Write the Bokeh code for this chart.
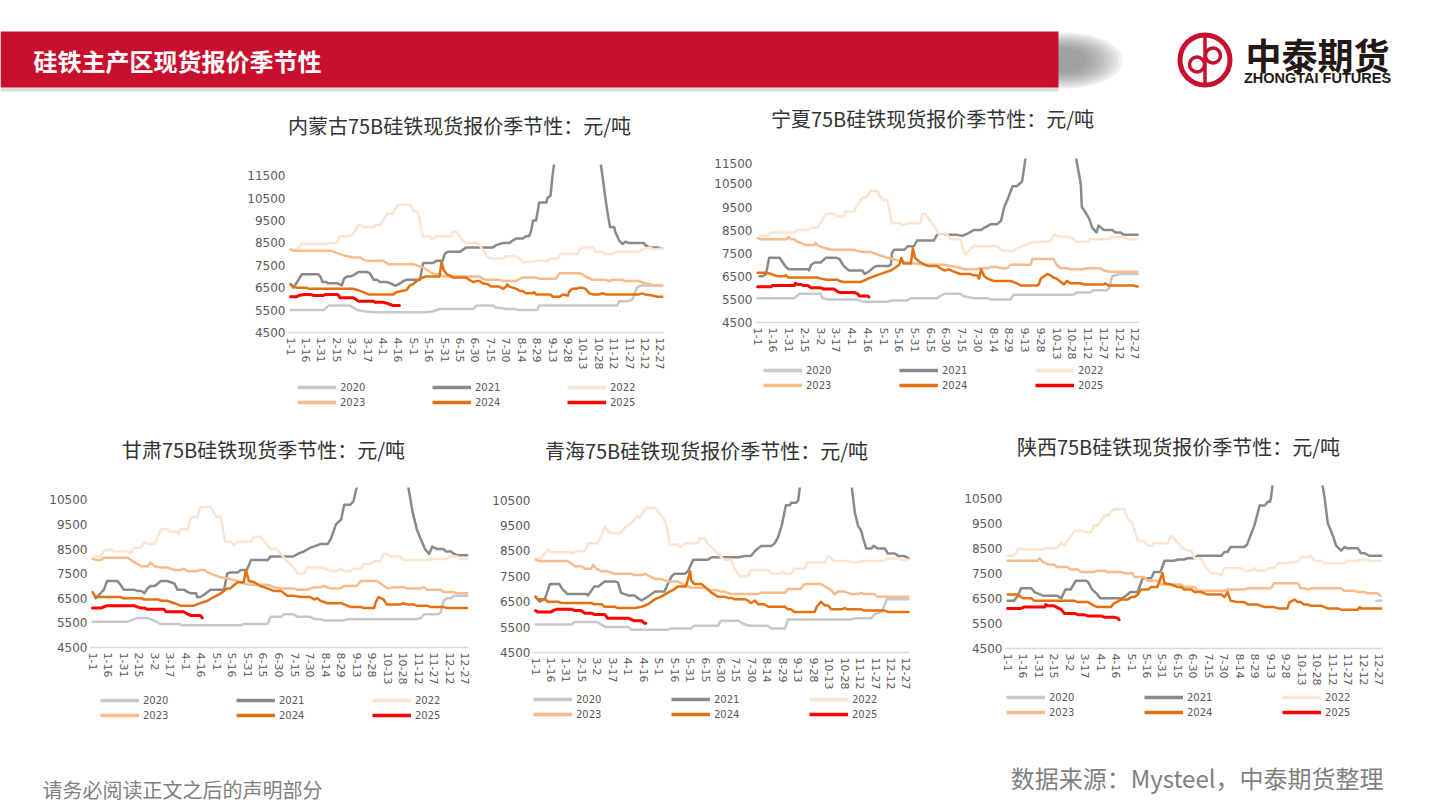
from bokeh.plotting import figure
from bokeh.layouts import column, row
from bokeh.models import Range1d, FixedTicker, Legend, LegendItem, Spacer
from bokeh.core.properties import value
from bokeh.embed import file_html
from bokeh.resources import INLINE

# ---------------- data ----------------
TICK_LABELS = ["1-1", "1-16", "1-31", "2-15", "3-2", "3-17", "4-1", "4-16", "5-1", "5-16",
               "5-31", "6-15", "6-30", "7-15", "7-30", "8-14", "8-29", "9-13", "9-28",
               "10-13", "10-28", "11-12", "11-27", "12-12", "12-27"]
TICK_DAYS = [i * 15 for i in range(len(TICK_LABELS))]   # day-of-year index of each label
YEARS = ["2020", "2021", "2022", "2023", "2024", "2025"]

# each series: (first day, last day, price) readings of flat stretches
NM_2020 = [(0,32,5500),(37,58,5700),(65,65,5500),(71,71,5450),(81,132,5400),(139,139,5450),(145,178,5550),(181,197,5700),(200,203,5600),(210,218,5550),(222,240,5500),(242,318,5700),(320,329,5900),(333,333,6000),(337,337,6500),(342,362,6600)]
NM_2021 = [(0,0,6650),(3,3,6500),(11,27,7100),(29,29,7000),(31,35,6750),(36,45,6700),(48,48,6650),(50,50,6600),(52,52,6900),(55,58,7000),(61,61,7050),(66,74,7200),(77,77,7150),(81,84,6850),(87,94,6750),(97,97,6700),(101,103,6600),(107,107,6700),(110,110,6800),(113,126,6850),(129,139,7600),(142,148,7700),(150,150,8000),(153,165,8100),(168,168,8200),(171,197,8300),(200,200,8400),(207,213,8500),(216,216,8600),(220,226,8700),(229,232,8800),(234,234,9000),(236,239,9500),(242,249,10300),(250,250,10500),(253,253,10600),(255,255,11500),(258,258,12500),(262,262,13500),(268,268,15000),(275,275,16500),(282,282,18000),(288,288,18500),(293,293,17000),(298,298,14000),(302,302,12000),(305,305,11000),(308,308,10000),(311,315,9200),(316,316,9000),(320,320,8600),(323,323,8450),(326,326,8550),(329,344,8500),(345,345,8400),(350,358,8300),(362,362,8250)]
NM_2022 = [(0,6,8200),(8,8,8300),(11,36,8450),(39,45,8500),(48,58,8800),(61,61,8900),(66,69,9300),(71,81,9200),(82,87,9300),(90,90,9500),(94,100,9800),(102,102,10000),(105,116,10200),(118,118,10100),(119,123,9900),(124,124,9800),(126,126,9500),(128,128,8900),(129,136,8800),(137,140,8700),(142,157,8800),(158,161,9000),(163,163,8900),(166,166,8700),(170,181,8500),(184,184,8400),(187,187,8200),(191,191,7900),(194,207,7800),(210,220,7900),(223,223,7800),(226,236,7650),(239,247,7700),(249,249,7650),(253,260,7800),(263,279,8000),(283,295,8300),(297,304,8100),(305,313,8000),(316,339,8100),(342,342,8200),(349,349,8300),(355,355,8200),(360,362,8250)]
NM_2023 = [(0,0,8200),(3,39,8150),(42,42,8100),(48,48,8000),(55,55,7900),(61,68,7850),(71,71,7750),(74,90,7700),(94,94,7600),(95,119,7550),(123,123,7500),(129,129,7400),(136,136,7200),(140,145,7100),(149,184,7000),(187,187,6900),(191,203,6850),(207,220,6800),(223,223,6900),(226,239,6950),(242,258,6900),(262,281,7150),(284,284,7100),(287,287,7000),(294,307,6850),(310,310,6800),(313,323,6850),(326,339,6800),(342,342,6750),(345,345,6700),(350,350,6650),(354,362,6600)]
NM_2024 = [(0,0,6650),(3,3,6550),(6,15,6500),(18,61,6450),(65,65,6400),(71,71,6300),(76,100,6200),(103,103,6300),(108,108,6350),(113,113,6400),(116,116,6600),(119,119,6650),(123,123,6800),(128,128,6950),(132,145,7000),(147,147,7650),(149,149,7300),(152,152,7100),(155,155,7050),(158,171,6950),(174,174,6850),(178,178,6750),(181,184,6800),(187,187,6700),(192,192,6650),(195,203,6550),(207,207,6450),(210,210,6550),(211,211,6650),(213,213,6550),(220,220,6450),(223,226,6350),(229,236,6250),(237,237,6300),(239,253,6200),(255,262,6100),(265,265,6200),(270,270,6150),(271,271,6300),(274,278,6450),(281,284,6500),(287,287,6450),(291,291,6250),(294,300,6200),(304,304,6250),(307,339,6200),(342,342,6250),(345,345,6200),(352,352,6150),(357,362,6100)]
NM_2025 = [(0,6,6100),(8,8,6150),(13,19,6200),(23,32,6150),(34,45,6200),(47,47,6150),(48,61,6050),(63,63,6000),(66,81,5900),(82,90,5850),(94,94,5800),(97,97,5750),(100,106,5700)]

NX_2020 = [(0,35,5550),(40,60,5750),(62,62,5550),(67,95,5500),(100,124,5400),(127,142,5450),(146,171,5550),(174,174,5650),(179,193,5750),(196,196,5650),(206,219,5550),(222,241,5500),(244,301,5700),(304,317,5800),(320,333,5900),(335,335,6000),(338,338,6500),(345,363,6600)]
NX_2021 = [(2,5,6500),(8,8,6600),(11,21,7300),(24,24,7100),(27,27,6900),(30,48,6800),(49,49,6750),(51,51,7000),(55,60,7100),(65,75,7300),(78,78,7250),(82,82,6950),(87,100,6750),(102,102,6600),(106,106,6700),(111,111,6900),(114,125,6950),(127,127,7000),(128,128,7500),(130,140,7650),(143,149,7800),(152,168,8050),(171,190,8300),(195,195,8250),(200,200,8350),(206,213,8500),(216,216,8600),(222,228,8750),(232,232,8900),(235,235,9500),(238,238,9800),(243,247,10400),(252,252,10600),(255,255,11500),(258,258,12500),(263,263,14000),(270,270,16000),(278,278,17500),(285,285,18500),(292,292,17500),(298,298,15000),(302,302,12500),(304,304,11500),(308,308,10500),(309,309,9500),(312,312,9300),(316,316,9000),(319,319,8600),(323,323,8400),(325,325,8700),(330,338,8500),(341,346,8400),(349,363,8300)]
NX_2022 = [(2,9,8250),(13,35,8400),(38,48,8500),(51,57,8600),(60,60,8800),(65,73,9200),(76,82,9100),(84,92,9300),(95,95,9600),(100,103,9900),(108,114,10200),(116,116,10000),(120,124,9800),(125,125,9500),(128,136,8800),(138,138,8700),(143,155,8800),(157,160,9200),(163,163,9000),(168,168,8700),(173,178,8300),(179,179,8400),(184,193,8100),(195,195,7800),(198,198,7450),(201,201,7600),(206,228,7800),(232,232,7650),(235,244,7600),(247,247,7700),(252,252,7800),(260,260,7950),(265,279,8000),(282,282,8300),(289,298,8200),(304,314,8000),(317,333,8100),(339,349,8200),(352,363,8100)]
NX_2023 = [(0,0,8150),(3,28,8100),(29,29,8200),(32,35,8100),(38,38,8000),(43,43,7900),(46,54,7850),(55,55,7950),(57,57,7850),(62,62,7750),(70,92,7650),(95,95,7600),(101,108,7550),(111,111,7500),(117,117,7400),(124,124,7300),(133,133,7200),(143,143,7100),(149,149,7050),(159,178,7000),(184,184,6950),(190,190,6900),(197,209,6800),(212,219,6850),(222,228,6900),(232,238,6850),(241,260,7000),(262,282,7250),(285,285,7000),(289,296,6850),(298,310,6800),(314,326,6850),(330,330,6750),(336,361,6700),(363,363,6650)]
NX_2024 = [(0,9,6650),(13,13,6600),(19,25,6500),(27,27,6550),(29,57,6450),(60,60,6400),(66,76,6350),(78,78,6300),(82,98,6250),(103,103,6350),(108,108,6450),(114,114,6550),(120,120,6650),(127,127,6750),(132,132,6900),(135,135,7000),(137,137,7300),(139,146,7050),(148,148,7700),(150,150,7300),(155,155,7100),(162,171,6950),(174,174,6850),(178,178,6750),(182,182,6800),(187,187,6700),(193,203,6600),(205,209,6550),(211,211,6400),(213,213,6800),(216,216,6500),(219,219,6400),(225,241,6300),(247,247,6200),(251,266,6100),(268,268,6150),(270,270,6400),(276,276,6600),(279,279,6550),(282,282,6450),(285,285,6400),(289,289,6250),(292,292,6150),(295,295,6300),(298,308,6200),(311,330,6150),(331,331,6200),(335,358,6100),(363,363,6050)]
NX_2025 = [(0,13,6050),(14,35,6100),(36,36,6200),(38,41,6150),(44,48,6100),(51,60,6000),(63,73,5950),(74,74,5900),(78,92,5800),(95,95,5750),(97,105,5650),(106,106,5600)]

GS_2020 = [(0,34,5550),(43,53,5700),(59,59,5600),(66,84,5450),(86,143,5400),(146,169,5450),(172,182,5750),(185,194,5850),(198,210,5750),(214,220,5650),(223,243,5600),(246,313,5650),(317,317,5700),(320,333,5850),(336,336,5900),(339,339,6400),(342,346,6500),(349,362,6600)]
GS_2021 = [(2,2,6600),(3,3,6500),(11,11,6850),(14,24,7200),(27,27,7050),(30,40,6850),(43,47,6800),(50,50,6700),(53,53,6900),(56,60,7000),(66,72,7200),(79,79,7100),(82,88,6850),(92,92,6750),(95,100,6700),(101,104,6550),(108,108,6650),(114,127,6850),(130,130,7500),(133,140,7550),(143,149,7650),(153,169,8050),(172,194,8200),(198,198,8300),(204,204,8400),(210,210,8550),(220,227,8700),(230,230,8900),(235,235,9500),(240,240,9700),(243,249,10300),(252,252,10450),(255,255,11000),(260,260,12500),(266,266,14500),(274,274,16500),(282,282,18000),(290,290,17500),(298,298,15000),(303,303,12000),(305,305,11000),(309,309,10000),(312,312,9500),(313,313,9300),(317,317,8900),(321,321,8500),(325,325,8300),(328,328,8600),(333,339,8500),(341,346,8400),(349,349,8300),(352,362,8250)]
GS_2022 = [(2,8,8200),(11,17,8450),(18,18,8500),(21,34,8400),(37,37,8350),(40,47,8550),(50,50,8800),(53,60,8700),(66,72,9300),(75,82,9200),(83,83,9100),(85,92,9300),(95,101,9800),(104,114,10200),(117,117,10000),(120,124,9800),(125,125,9500),(128,133,8800),(137,137,8650),(140,153,8800),(156,162,9000),(166,166,8800),(172,178,8500),(182,182,8300),(188,188,8000),(195,195,7700),(198,204,7500),(207,223,7750),(227,227,7650),(230,236,7600),(240,240,7700),(243,249,7600),(252,259,7700),(262,268,7900),(272,278,8000),(281,285,8300),(288,297,8200),(300,326,8050),(328,342,8100),(346,352,8200),(355,362,8100)]
GS_2023 = [(0,0,8100),(5,8,8050),(11,34,8150),(37,37,8050),(43,43,7900),(47,53,7800),(56,56,7950),(60,60,7800),(66,72,7750),(79,85,7650),(88,88,7700),(92,101,7600),(104,108,7650),(111,111,7550),(117,117,7450),(124,124,7350),(130,130,7300),(140,140,7200),(146,146,7100),(153,169,7050),(175,175,6950),(182,194,6900),(198,207,6850),(214,220,6950),(223,223,7000),(230,239,6900),(243,255,7000),(259,275,7200),(278,278,7100),(285,285,6900),(291,300,6950),(304,316,6900),(320,320,6950),(323,336,6850),(339,349,6750),(352,362,6700)]
GS_2024 = [(0,0,6750),(3,27,6550),(30,47,6500),(50,63,6450),(66,72,6400),(79,79,6300),(85,98,6200),(104,104,6300),(111,111,6400),(117,117,6550),(124,124,6700),(130,133,6900),(137,137,7050),(140,146,7150),(148,148,7650),(151,151,7200),(156,156,7150),(162,162,7000),(169,169,6900),(175,182,6800),(188,194,6600),(201,210,6550),(214,214,6450),(217,217,6500),(220,220,6400),(227,240,6300),(246,246,6200),(249,259,6150),(262,272,6100),(273,273,6300),(276,276,6550),(281,281,6450),(284,297,6250),(300,300,6300),(304,310,6250),(313,323,6200),(326,339,6150),(342,362,6100)]
GS_2025 = [(0,8,6100),(11,11,6150),(14,40,6200),(43,43,6150),(47,50,6100),(53,69,6050),(71,88,5950),(92,92,5850),(95,104,5800),(106,106,5700)]

QH_2020 = [(0,35,5600),(38,60,5700),(64,64,5600),(68,90,5500),(93,128,5400),(132,151,5450),(154,177,5550),(180,197,5750),(203,203,5600),(209,225,5550),(229,242,5450),(243,243,5550),(245,306,5800),(310,326,5850),(329,329,6000),(336,336,6100),(341,363,6600)]
QH_2021 = [(0,0,6700),(4,4,6500),(9,9,6600),(14,23,7200),(26,26,7000),(31,50,6800),(51,51,6750),(57,61,7100),(67,77,7300),(80,80,7250),(83,83,6850),(90,96,6750),(99,99,6650),(103,103,6550),(109,109,6700),(116,125,6900),(132,132,7500),(135,145,7600),(148,148,7700),(153,167,8150),(171,197,8250),(203,209,8300),(213,213,8500),(219,229,8700),(232,232,8800),(235,235,9000),(239,239,9500),(240,240,9700),(243,247,10300),(248,253,10400),(255,255,10500),(258,258,11500),(262,262,13000),(268,268,15000),(276,276,17000),(284,284,18500),(291,291,18000),(298,298,15500),(304,304,12500),(307,307,11000),(310,310,10000),(313,313,9500),(316,316,9300),(318,318,9000),(321,326,8600),(328,328,8700),(332,339,8600),(342,349,8400),(352,358,8300),(363,363,8200)]
QH_2022 = [(0,5,8200),(12,12,8550),(15,34,8450),(35,35,8400),(41,48,8500),(51,60,8800),(64,64,9100),(67,67,9450),(72,83,9200),(86,86,9400),(93,93,9600),(99,99,9900),(101,101,9800),(107,116,10200),(120,120,10000),(124,124,9800),(127,127,9500),(130,138,8750),(140,140,8650),(145,158,8800),(159,164,9000),(167,167,8800),(172,172,8600),(177,177,8400),(183,190,8150),(193,193,7800),(198,206,7500),(209,226,7750),(229,238,7600),(239,239,7700),(242,248,7600),(251,261,7800),(264,281,8050),(284,284,8300),(290,303,8100),(307,313,8050),(316,336,8100),(342,352,8200),(355,363,8150)]
QH_2023 = [(0,0,8150),(4,31,8100),(35,35,8000),(38,44,7900),(48,54,7800),(56,56,7950),(59,59,7800),(64,70,7700),(77,93,7600),(96,103,7550),(106,106,7600),(116,122,7400),(128,138,7300),(145,145,7150),(151,164,7050),(171,177,6950),(180,183,6900),(190,216,6800),(219,242,6850),(245,257,7000),(261,277,7200),(287,287,6950),(290,290,6800),(294,300,6900),(303,303,6850),(307,313,6800),(316,316,6850),(319,329,6800),(332,363,6700)]
QH_2024 = [(0,0,6700),(2,9,6600),(12,22,6500),(25,54,6450),(57,64,6400),(67,77,6300),(80,96,6250),(103,103,6300),(109,109,6400),(116,116,6600),(122,122,6700),(128,128,6850),(135,135,7000),(138,146,7100),(150,150,7700),(151,151,7350),(154,161,7200),(164,164,7100),(171,171,6850),(177,183,6700),(187,190,6650),(193,203,6600),(206,206,6550),(209,209,6450),(213,213,6550),(216,222,6400),(226,242,6300),(245,248,6200),(251,271,6100),(273,273,6300),(277,277,6500),(281,284,6350),(287,297,6200),(300,300,6250),(303,316,6200),(319,339,6150),(342,363,6100)]
QH_2025 = [(0,0,6150),(2,15,6100),(17,17,6150),(20,35,6200),(38,44,6150),(48,54,6050),(57,67,6000),(70,90,5850),(93,93,5800),(96,103,5750),(106,107,5650)]

SX_2020 = [(357,362,6400)]
SX_2021 = [(0,6,6400),(10,10,6600),(13,23,6900),(26,26,6750),(32,32,6650),(35,48,6600),(50,50,6550),(52,52,6500),(56,61,6850),(66,76,7200),(78,78,7150),(82,82,6850),(86,86,6700),(90,110,6500),(113,113,6550),(119,126,6750),(128,128,7000),(131,139,7300),(142,148,7550),(152,161,8000),(165,171,8050),(174,181,8100),(184,207,8200),(210,213,8350),(216,229,8550),(232,232,8650),(236,236,9100),(239,239,9400),(244,249,10200),(252,254,10350),(255,255,10500),(258,258,11500),(262,262,13000),(268,268,15000),(276,276,17000),(284,284,18500),(291,291,18000),(298,298,15500),(303,303,12500),(305,305,11000),(307,307,10500),(310,310,9500),(315,315,9000),(318,318,8600),(323,323,8400),(326,326,8550),(329,339,8500),(342,346,8300),(350,362,8200)]
SX_2022 = [(0,6,8200),(11,11,8500),(15,32,8450),(39,48,8500),(52,52,8700),(55,55,8600),(58,58,8800),(65,71,9200),(74,81,9150),(84,87,9400),(94,97,9800),(100,100,9950),(103,113,10050),(116,116,9700),(121,121,9500),(126,132,8800),(136,139,8600),(142,155,8700),(158,158,9000),(163,163,8800),(170,170,8500),(174,178,8400),(181,187,8100),(191,191,7800),(197,203,7500),(207,207,7400),(210,226,7700),(229,236,7600),(239,239,7700),(242,249,7600),(252,258,7700),(262,271,7900),(274,281,7950),(284,291,8150),(294,294,8200),(297,304,8000),(307,326,7900),(329,339,8000),(342,349,8050),(352,362,8000)]
SX_2023 = [(0,29,8000),(31,31,8100),(34,34,7950),(39,45,7850),(48,58,7750),(61,68,7650),(71,84,7550),(87,94,7600),(97,110,7550),(113,121,7500),(123,132,7350),(136,145,7200),(149,168,7050),(171,181,6950),(184,210,6800),(213,229,6850),(233,255,6900),(258,281,7100),(284,287,6900),(291,291,6850),(294,323,6900),(326,336,6800),(339,346,6750),(349,358,6700),(361,361,6600)]
SX_2024 = [(0,10,6650),(13,13,6550),(16,23,6500),(26,65,6400),(68,78,6350),(84,84,6200),(87,100,6150),(103,103,6300),(110,116,6450),(120,123,6550),(126,126,6650),(129,136,6850),(139,145,6950),(150,150,7500),(152,152,7100),(158,158,7050),(165,168,6950),(171,178,6850),(181,187,6750),(194,207,6650),(210,210,6550),(213,213,6750),(216,216,6400),(223,229,6350),(233,242,6250),(249,258,6150),(262,271,6100),(273,273,6350),(278,278,6450),(281,284,6350),(287,291,6250),(294,304,6200),(307,307,6150),(310,320,6100),(323,339,6050),(341,341,6150),(342,362,6100)]
SX_2025 = [(0,13,6100),(16,36,6150),(37,37,6250),(39,45,6200),(52,52,6050),(55,65,5900),(68,74,5850),(78,90,5800),(94,103,5750),(107,107,5700),(108,108,5650)]

NM = {"2020": NM_2020, "2021": NM_2021, "2022": NM_2022, "2023": NM_2023, "2024": NM_2024, "2025": NM_2025}
NX = {"2020": NX_2020, "2021": NX_2021, "2022": NX_2022, "2023": NX_2023, "2024": NX_2024, "2025": NX_2025}
GS = {"2020": GS_2020, "2021": GS_2021, "2022": GS_2022, "2023": GS_2023, "2024": GS_2024, "2025": GS_2025}
QH = {"2020": QH_2020, "2021": QH_2021, "2022": QH_2022, "2023": QH_2023, "2024": QH_2024, "2025": QH_2025}
SX = {"2020": SX_2020, "2021": SX_2021, "2022": SX_2022, "2023": SX_2023, "2024": SX_2024, "2025": SX_2025}

YTICKS_HIGH = [4500, 5500, 6500, 7500, 8500, 9500, 10500, 11500]
YTICKS_LOW = [4500, 5500, 6500, 7500, 8500, 9500, 10500]

# ---------------- styles ----------------
COLORS = {"2020": "#C8C8C8", "2021": "#8A8A8A", "2022": "#FCE4D2",
          "2023": "#F7BC8C", "2024": "#E4700F", "2025": "#FF0000"}
WIDTHS = {"2020": 2.5, "2021": 2.5, "2022": 2.5, "2023": 2.5, "2024": 2.5, "2025": 3.0}
RED = "#C8102E"
TXT = "#595959"
CJK = "Noto Sans CJK SC"
NUM = "DejaVu Sans"
AXIS_H = 40   # pixels under each plot frame for the date labels


def expand(levels):
    xs, ys = [], []
    for a, b, v in levels:
        xs.append(a)
        ys.append(v)
        if b != a:
            xs.append(b)
            ys.append(v)
    return xs, ys


def canvas(w, h, lb=0, rb=0, x0=None, x1=None, ytop=0):
    """blank figure whose data coordinates are page pixels"""
    if x0 is None:
        x0, x1 = 0, w
    p = figure(width=w, height=h, x_range=Range1d(x0, x1), y_range=Range1d(ytop + h, ytop),
               min_border_left=lb, min_border_right=rb, min_border_top=0, min_border_bottom=0,
               x_axis_type=None, y_axis_type=None,
               output_backend="svg", toolbar_location=None, tools="")
    p.outline_line_color = None
    p.background_fill_color = "white"
    p.border_fill_color = "white"
    p.grid.visible = False
    return p


def make_chart(title, data, ymax, yticks, g):
    fl, fr, ft, fb = g["frame"]
    lb, rb = fl - g["left"], g["rb"]
    width = lb + (fr - fl) + rb
    # title strip (its frame lines up with the chart frame)
    tc = canvas(width, ft - g["top"], lb, rb, fl, fr, g["top"])
    tc.text(x=[g["tx"]], y=[g["ty"]], text=[title],
            text_font=value(CJK), text_font_size="20px", text_color="#333333",
            text_align="center", text_baseline="middle")

    p = figure(frame_width=fr - fl, frame_height=fb - ft,
               min_border_left=lb, min_border_right=rb,
               min_border_top=0, min_border_bottom=AXIS_H,
               x_range=Range1d(-2, 363), y_range=Range1d(4500, ymax),
               output_backend="svg", toolbar_location=None, tools="", title=None)
    p.background_fill_color = "white"
    p.border_fill_color = "white"
    p.outline_line_color = None
    p.xgrid.visible = False
    p.ygrid.visible = False

    xa = p.xaxis[0]
    xa.ticker = FixedTicker(ticks=TICK_DAYS)
    xa.major_label_overrides = {d: l for d, l in zip(TICK_DAYS, TICK_LABELS)}
    xa.major_label_orientation = "vertical"
    xa.axis_line_color = "#D9D9D9"
    xa.axis_line_width = 1.5
    xa.major_tick_line_color = None
    xa.minor_tick_line_color = None
    xa.major_tick_out = 0
    xa.major_tick_in = 0
    xa.minor_tick_out = 0
    xa.major_label_standoff = 5
    xa.major_label_text_font = NUM
    xa.major_label_text_font_size = "11px"
    xa.major_label_text_color = TXT

    ya = p.yaxis[0]
    ya.ticker = FixedTicker(ticks=yticks)
    ya.axis_line_color = None
    ya.major_tick_line_color = None
    ya.minor_tick_line_color = None
    ya.major_tick_out = 0
    ya.major_tick_in = 0
    ya.minor_tick_out = 0
    ya.major_label_standoff = 3
    ya.major_label_text_font = NUM
    ya.major_label_text_font_size = "12px"
    ya.major_label_text_color = TXT

    for y in YEARS:
        xs, ys = expand(data[y])
        p.line(xs, ys, line_color=COLORS[y], line_width=WIDTHS[y],
               line_join="round", line_cap="round")

    # legend strip (its frame lines up with the chart frame)
    ltop = fb + AXIS_H
    lh = g["top"] + 320 - ltop
    lc = canvas(width, lh, lb, rb, fl, fr, ltop)
    items = []
    for y in YEARS:
        r = lc.line(x=[fl - 500], y=[ltop], line_color=COLORS[y], line_width=3.5)
        items.append(LegendItem(label=y, renderers=[r]))
    box_bottom = g["lgy"] + 21
    lg = Legend(items=items, location=(g["lgx"] - fl, ltop + lh - box_bottom),
                orientation="horizontal", ncols=3,
                glyph_width=39, glyph_height=12, label_width=g["lgw"], label_height=12,
                label_standoff=4, spacing=3, padding=0, margin=0,
                border_line_color=None, background_fill_alpha=0,
                label_text_font=NUM, label_text_font_size="10px",
                label_text_color=TXT)
    lc.add_layout(lg)
    return column(tc, p, lc)


# geometry in page pixels
G1 = dict(frame=(288, 663, 164, 332), left=243, rb=20, top=100, tx=459, ty=125, lgx=297, lgy=387, lgw=89)
G2 = dict(frame=(755, 1138, 158, 322), left=710, rb=20, top=100, tx=932, ty=118, lgx=763, lgy=370, lgw=90)
G3 = dict(frame=(90, 468, 487, 647), left=45, rb=10, top=420, tx=263, ty=449, lgx=100, lgy=700, lgw=90)
G4 = dict(frame=(533, 909, 487, 652), left=488, rb=10, top=420, tx=706, ty=450, lgx=533, lgy=699, lgw=92)
G5 = dict(frame=(1005, 1382, 485, 648), left=960, rb=10, top=420, tx=1178, ty=446, lgx=1006, lgy=697, lgw=92)

c1 = make_chart("内蒙古75B硅铁现货报价季节性：元/吨", NM, 12000, YTICKS_HIGH, G1)
c2 = make_chart("宁夏75B硅铁现货报价季节性：元/吨", NX, 11600, YTICKS_HIGH, G2)
c3 = make_chart("甘肃75B硅铁现货季节性：元/吨", GS, 11000, YTICKS_LOW, G3)
c4 = make_chart("青海75B硅铁现货报价季节性：元/吨", QH, 11000, YTICKS_LOW, G4)
c5 = make_chart("陕西75B硅铁现货报价季节性：元/吨", SX, 11000, YTICKS_LOW, G5)

# ---------------- header (page y 0..100) ----------------
hd = canvas(1440, 100)
for i in range(9):
    hd.ellipse(x=[1066], y=[60], width=[112 - i * 9], height=[56 - i * 4],
               fill_color="#7A7A7A", fill_alpha=0.12, line_color=None)
hd.quad(left=[0], right=[1058], top=[87], bottom=[91], fill_color="#9A9A9A",
        fill_alpha=0.35, line_color=None)
hd.quad(left=[0], right=[1058], top=[31], bottom=[87], fill_color=RED, line_color=None)
hd.text(x=[33], y=[60], text=["硅铁主产区现货报价季节性"], text_color="white",
        text_font=value(CJK), text_font_style="bold", text_font_size="24px",
        text_baseline="middle", text_align="left")
# logo
hd.circle(x=[1204.5], y=[59.5], radius=25, fill_color="white", line_color=RED, line_width=5)
hd.line(x=[1204.5, 1204.5], y=[36, 83], line_color=RED, line_width=3.5)
hd.circle(x=[1196.5], y=[64], radius=7.5, fill_color=None, line_color=RED, line_width=3.5)
hd.circle(x=[1212.5], y=[55], radius=7.5, fill_color=None, line_color=RED, line_width=3.5)
hd.text(x=[1317], y=[53], text=["中泰期货"], text_color="#231815",
        text_font=value(CJK), text_font_style="bold", text_font_size="36px",
        text_baseline="middle", text_align="center")
hd.text(x=[1317], y=[77.5], text=["ZHONGTAI FUTURES"], text_color="#231815",
        text_font=value("Liberation Sans"), text_font_style="bold", text_font_size="14.5px",
        text_baseline="middle", text_align="center")

# ---------------- footer (page y 740..806) ----------------
ftr = canvas(1440, 66, ytop=740)
ftr.text(x=[42], y=[789], text=["请务必阅读正文之后的声明部分"], text_color="#7F7F7F",
         text_font=value(CJK), text_font_size="20px", text_baseline="middle", text_align="left")
ftr.text(x=[1383], y=[777], text=["数据来源：Mysteel，中泰期货整理"], text_color="#7F7F7F",
         text_font=value(CJK), text_font_size="24px", text_baseline="middle", text_align="right")

row1 = row(Spacer(width=243, height=320), c1, Spacer(width=27, height=320), c2)
row2 = row(Spacer(width=45, height=320), c3, Spacer(width=10, height=320), c4,
           Spacer(width=41, height=320), c5)
layout = column(hd, row1, row2, ftr)

open("out.html", "w").write(file_html(layout, INLINE))
